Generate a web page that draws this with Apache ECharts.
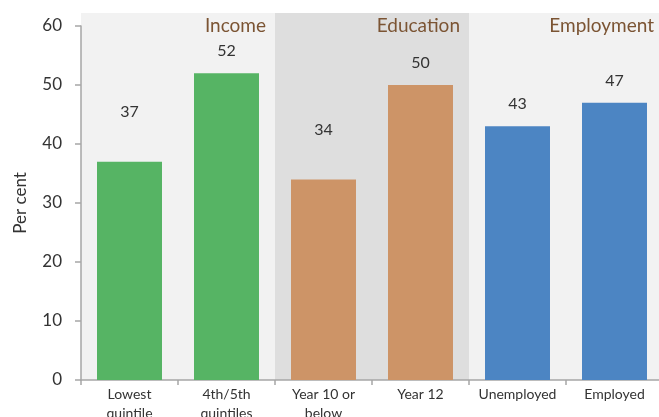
<!DOCTYPE html>
<html>
<head>
<meta charset="utf-8">
<script src="https://cdn.jsdelivr.net/npm/echarts@6/dist/echarts.min.js"></script>
<style>
  html, body { margin: 0; padding: 0; background: #fff; }
  #chart { width: 659px; height: 417px; }
</style>
</head>
<body>
<div id="chart"></div>
<script>
// categories and values
const categories = ['Lowest\nquintile', '4th/5th\nquintiles', 'Year 10 or\nbelow', 'Year 12', 'Unemployed', 'Employed']
const values = [37, 52, 34, 50, 43, 47]
const groups = ['Income', 'Education', 'Employment']
const groupOfBar = [0, 0, 1, 1, 2, 2]
const yTicks = [0, 10, 20, 30, 40, 50, 60]

const barColors = ['#56b464', '#cd9467', '#4c85c3']
const bandColors = ['#f2f2f2', '#dedede']
const bandTop = 62.2
const font = 'Lato, "Liberation Sans", sans-serif'

const chart = echarts.init(document.getElementById('chart'))

const option = {
  animation: false,
  textStyle: { fontFamily: font },
  grid: { left: 81, top: 26, bottom: 37, width: 582, outerBoundsMode: 'none', containLabel: false },
  xAxis: [
    {
      type: 'category',
      data: categories,
      axisLine: { lineStyle: { color: '#a6a6a6', width: 1.5 } },
      axisTick: { show: true, length: 5, lineStyle: { color: '#a6a6a6', width: 1.5 } },
      axisLabel: { color: '#333', fontSize: 14, lineHeight: 19, margin: 5, interval: 0 },
    },
    {
      type: 'category',
      data: groups,
      show: false,
    },
  ],
  yAxis: {
    type: 'value',
    min: yTicks[0],
    max: yTicks[yTicks.length - 1],
    interval: 10,
    name: 'Per cent',
    nameLocation: 'middle',
    nameGap: 52,
    nameTextStyle: { color: '#333', fontSize: 17 },
    axisLine: { show: true, lineStyle: { color: '#a6a6a6', width: 1.5 } },
    axisTick: { show: true, length: 6, lineStyle: { color: '#a6a6a6', width: 1.5 } },
    axisLabel: { color: '#333', fontSize: 17, margin: 19 },
    splitLine: { show: false },
  },
  series: [
    {
      // group background bands + group titles
      type: 'custom',
      xAxisIndex: 1,
      z: 0,
      silent: true,
      data: groups.map((g, i) => [i]),
      renderItem: (params, api) => {
        const idx = api.value(0)
        const top = api.coord([idx, bandTop])
        const bottom = api.coord([idx, 0])
        const w = api.size([1, 0])[0]
        const left = top[0] - w / 2
        return {
          type: 'group',
          children: [
            {
              type: 'rect',
              shape: { x: left, y: top[1], width: w, height: bottom[1] - top[1] },
              style: { fill: bandColors[idx % 2] },
            },
            {
              type: 'text',
              x: left + w - 9,
              y: top[1] + 3,
              style: {
                text: groups[idx],
                fill: '#7b5433',
                font: '19px ' + font,
                align: 'right',
                verticalAlign: 'top',
              },
            },
          ],
        }
      },
    },
    {
      type: 'bar',
      z: 2,
      barWidth: '67%',
      data: values.map((v, i) => ({
        value: v,
        itemStyle: { color: barColors[groupOfBar[i]] },
        label: { distance: (i === 0 || i === 2) ? 42 : 14 },
      })),
      label: {
        show: true,
        position: 'top',
        color: '#333',
        fontSize: 16,
      },
    },
  ],
}

chart.setOption(option)
</script>
</body>
</html>
